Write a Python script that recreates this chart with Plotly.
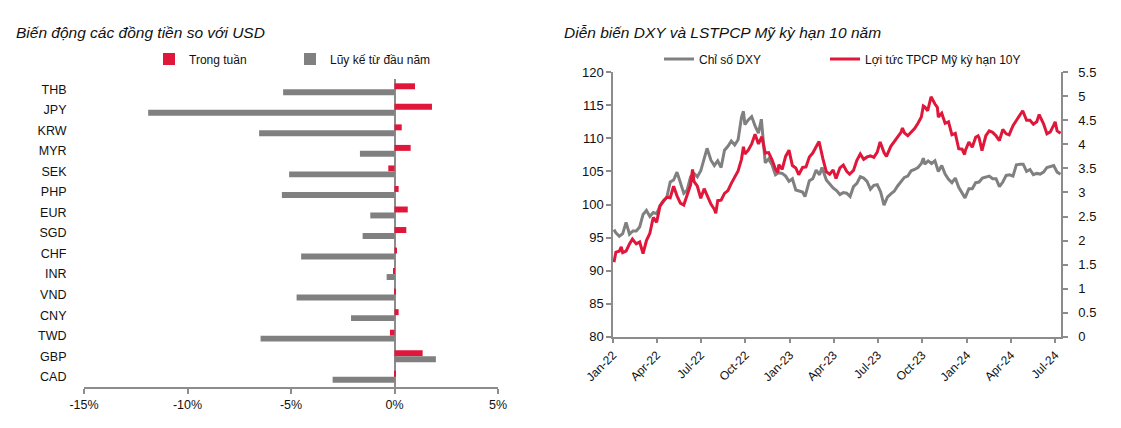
import plotly.graph_objects as go

# ---------------- Left chart data ----------------
currencies = ["THB", "JPY", "KRW", "MYR", "SEK", "PHP", "EUR", "SGD", "CHF", "INR",
              "VND", "CNY", "TWD", "GBP", "CAD"]
week_change = [0.99, 1.81, 0.35, 0.78, -0.30, 0.20, 0.64, 0.57, 0.12, -0.05,
               0.05, 0.20, -0.22, 1.36, 0.05]
ytd_change = [-5.38, -11.90, -6.54, -1.67, -5.09, -5.44, -1.17, -1.54, -4.51, -0.38,
              -4.73, -2.10, -6.47, 2.00, -2.99]
pct_ticks = [-15, -10, -5, 0, 5]
pct_labels = ["-15%", "-10%", "-5%", "0%", "5%"]

# ---------------- Right chart data ----------------
dxy_dates = [
    "2022-01-03", "2022-01-07", "2022-01-14", "2022-01-21", "2022-01-28", "2022-02-04", "2022-02-11",
    "2022-02-18", "2022-02-25", "2022-03-04", "2022-03-11", "2022-03-18", "2022-03-25", "2022-04-01",
    "2022-04-08", "2022-04-15", "2022-04-22", "2022-04-29", "2022-05-06", "2022-05-13", "2022-05-20",
    "2022-05-27", "2022-06-03", "2022-06-10", "2022-06-17", "2022-06-24", "2022-07-01", "2022-07-08",
    "2022-07-14", "2022-07-22", "2022-07-29", "2022-08-05", "2022-08-12", "2022-08-19", "2022-08-26",
    "2022-09-02", "2022-09-09", "2022-09-16", "2022-09-23", "2022-09-27", "2022-09-30", "2022-10-07",
    "2022-10-14", "2022-10-21", "2022-10-28", "2022-11-03", "2022-11-11", "2022-11-18", "2022-11-25",
    "2022-12-02", "2022-12-09", "2022-12-16", "2022-12-23", "2022-12-30",
    "2023-01-06", "2023-01-13", "2023-01-20", "2023-01-27", "2023-02-01", "2023-02-10", "2023-02-17",
    "2023-02-24", "2023-03-03", "2023-03-08", "2023-03-17", "2023-03-24", "2023-03-31", "2023-04-07",
    "2023-04-14", "2023-04-21", "2023-04-28", "2023-05-05", "2023-05-12", "2023-05-19", "2023-05-26",
    "2023-06-02", "2023-06-09", "2023-06-16", "2023-06-23", "2023-06-30", "2023-07-07", "2023-07-14",
    "2023-07-21", "2023-07-28", "2023-08-04", "2023-08-11", "2023-08-18", "2023-08-25", "2023-09-01",
    "2023-09-08", "2023-09-15", "2023-09-22", "2023-09-29", "2023-10-03", "2023-10-06", "2023-10-13",
    "2023-10-20", "2023-10-27", "2023-11-03", "2023-11-10", "2023-11-17", "2023-11-24", "2023-12-01",
    "2023-12-08", "2023-12-15", "2023-12-22", "2023-12-28",
    "2024-01-05", "2024-01-12", "2024-01-19", "2024-01-26", "2024-02-02", "2024-02-09", "2024-02-16",
    "2024-02-23", "2024-03-01", "2024-03-08", "2024-03-15", "2024-03-22", "2024-03-29", "2024-04-05",
    "2024-04-12", "2024-04-19", "2024-04-26", "2024-05-03", "2024-05-10", "2024-05-17", "2024-05-24",
    "2024-05-31", "2024-06-07", "2024-06-14", "2024-06-21", "2024-06-28", "2024-07-05", "2024-07-12"]
dxy_values = [
    96.2, 95.7, 95.2, 95.6, 97.3, 95.5, 96.0,
    96.0, 96.6, 98.5, 99.1, 98.2, 98.8, 98.6,
    99.8, 100.5, 101.1, 103.4, 103.7, 104.9, 103.2,
    101.7, 102.2, 104.2, 104.7, 104.2, 105.1, 107.0,
    108.5, 106.7, 105.9, 106.6, 105.6, 108.2, 108.8,
    109.6, 109.0, 109.8, 113.2, 114.1, 112.1, 112.8,
    113.3, 111.9, 110.8, 112.9, 106.3, 106.9, 106.0,
    104.5, 104.8, 104.7, 104.3, 103.5,
    103.9, 102.2, 102.0, 101.9, 101.2, 103.6, 103.9,
    105.2, 104.5, 105.6, 103.7, 103.1, 102.5, 102.1,
    101.5, 101.8, 101.7, 101.2, 102.7, 103.2, 104.2,
    104.0, 103.5, 102.3, 102.9, 103.0, 101.9, 99.9,
    101.1, 101.6, 102.0, 102.8, 103.4, 104.1, 104.3,
    105.1, 105.3, 105.6, 106.2, 107.0, 106.1, 106.6,
    106.2, 106.6, 105.0, 105.9, 104.6, 103.8, 103.3,
    104.0, 102.6, 101.8, 101.0,
    102.4, 102.4, 103.3, 103.4, 104.0, 104.1, 104.3,
    103.9, 103.9, 102.7, 103.4, 104.4, 104.5, 104.3,
    106.0, 106.1, 106.1, 105.0, 105.3, 104.5, 104.7,
    104.6, 104.9, 105.6, 105.8, 105.9, 104.9, 104.6]

ust_dates = [
    "2022-01-03", "2022-01-07", "2022-01-14", "2022-01-18", "2022-01-21", "2022-01-28", "2022-02-04",
    "2022-02-10", "2022-02-18", "2022-02-25", "2022-03-04", "2022-03-11", "2022-03-18", "2022-03-25",
    "2022-04-01", "2022-04-08", "2022-04-15", "2022-04-22", "2022-04-29", "2022-05-06", "2022-05-13",
    "2022-05-20", "2022-05-27", "2022-06-03", "2022-06-10", "2022-06-14", "2022-06-17", "2022-06-24",
    "2022-07-01", "2022-07-08", "2022-07-15", "2022-07-22", "2022-07-29", "2022-08-01", "2022-08-05",
    "2022-08-12", "2022-08-19", "2022-08-26", "2022-09-02", "2022-09-09", "2022-09-16", "2022-09-23",
    "2022-09-27", "2022-09-30", "2022-10-07", "2022-10-14", "2022-10-21", "2022-10-28", "2022-11-04",
    "2022-11-11", "2022-11-18", "2022-11-25", "2022-12-02", "2022-12-07", "2022-12-09", "2022-12-16",
    "2022-12-23", "2022-12-30",
    "2023-01-06", "2023-01-13", "2023-01-19", "2023-01-27", "2023-02-03", "2023-02-10", "2023-02-17",
    "2023-02-24", "2023-03-02", "2023-03-10", "2023-03-17", "2023-03-24", "2023-03-31", "2023-04-06",
    "2023-04-14", "2023-04-21", "2023-04-28", "2023-05-04", "2023-05-12", "2023-05-19", "2023-05-26",
    "2023-06-02", "2023-06-09", "2023-06-16", "2023-06-23", "2023-06-30", "2023-07-06", "2023-07-14",
    "2023-07-19", "2023-07-28", "2023-08-04", "2023-08-11", "2023-08-18", "2023-08-21", "2023-08-25",
    "2023-09-01", "2023-09-08", "2023-09-15", "2023-09-22", "2023-09-29", "2023-10-03", "2023-10-06",
    "2023-10-12", "2023-10-19", "2023-10-27", "2023-11-01", "2023-11-03", "2023-11-10", "2023-11-17",
    "2023-11-24", "2023-12-01", "2023-12-08", "2023-12-15", "2023-12-22", "2023-12-27", "2023-12-29",
    "2024-01-05", "2024-01-12", "2024-01-19", "2024-01-24", "2024-01-26", "2024-02-01", "2024-02-09",
    "2024-02-16", "2024-02-23", "2024-03-01", "2024-03-08", "2024-03-15", "2024-03-22", "2024-03-28",
    "2024-04-05", "2024-04-12", "2024-04-19", "2024-04-25", "2024-05-03", "2024-05-10", "2024-05-17",
    "2024-05-24", "2024-05-29", "2024-06-07", "2024-06-14", "2024-06-21", "2024-06-28", "2024-07-01",
    "2024-07-05", "2024-07-12"]
ust_values = [
    1.55, 1.76, 1.78, 1.87, 1.75, 1.78, 1.93,
    2.03, 1.93, 1.97, 1.73, 2.00, 2.15, 2.48,
    2.38, 2.72, 2.83, 2.90, 2.89, 3.13, 2.93,
    2.78, 2.74, 2.94, 3.16, 3.48, 3.23, 3.13,
    2.88, 3.08, 2.93, 2.76, 2.65, 2.57, 2.83,
    2.84, 2.98, 3.04, 3.19, 3.32, 3.45, 3.69,
    3.95, 3.80, 3.88, 4.01, 4.21, 4.01, 4.16,
    3.82, 3.83, 3.68, 3.49, 3.42, 3.58, 3.48,
    3.75, 3.88,
    3.56, 3.51, 3.37, 3.52, 3.53, 3.74, 3.82,
    3.95, 4.06, 3.70, 3.43, 3.38, 3.47, 3.29,
    3.51, 3.57, 3.44, 3.38, 3.46, 3.67, 3.80,
    3.69, 3.74, 3.76, 3.73, 3.84, 4.05, 3.83,
    3.75, 3.96, 4.05, 4.16, 4.25, 4.34, 4.24,
    4.18, 4.26, 4.33, 4.44, 4.57, 4.80, 4.78,
    4.70, 4.99, 4.84, 4.77, 4.57, 4.65, 4.44,
    4.47, 4.20, 4.23, 3.91, 3.90, 3.79, 3.88,
    4.05, 3.94, 4.15, 4.18, 4.14, 3.87, 4.18,
    4.28, 4.25, 4.18, 4.08, 4.31, 4.22, 4.20,
    4.39, 4.50, 4.62, 4.70, 4.50, 4.50, 4.42,
    4.47, 4.62, 4.43, 4.22, 4.26, 4.40, 4.47,
    4.28, 4.23]

date_ticks = ["2022-01-01", "2022-04-01", "2022-07-01", "2022-10-01", "2023-01-01", "2023-04-01",
              "2023-07-01", "2023-10-01", "2024-01-01", "2024-04-01", "2024-07-01"]
date_labels = ["Jan-22", "Apr-22", "Jul-22", "Oct-22", "Jan-23", "Apr-23",
               "Jul-23", "Oct-23", "Jan-24", "Apr-24", "Jul-24"]

RED = "#E0173A"
GRAY = "#808080"
AXIS = "#8C8C8C"
TXT = "#111111"
FONT = "Liberation Sans, Arial, sans-serif"

W, H = 1121, 428


def px_x(p):
    return p / W


def px_y(p):
    return 1 - p / H


fig = go.Figure()
fig.add_trace(go.Bar(y=currencies, x=week_change, orientation="h", name="Trong tuần",
                     marker=dict(color=RED, line=dict(width=0)), xaxis="x", yaxis="y",
                     legend="legend"))
fig.add_trace(go.Bar(y=currencies, x=ytd_change, orientation="h", name="Lũy kế từ đầu năm",
                     marker=dict(color=GRAY, line=dict(width=0)), xaxis="x", yaxis="y",
                     legend="legend2"))
fig.add_trace(go.Scatter(x=dxy_dates, y=dxy_values, mode="lines", name="Chỉ số DXY",
                         line=dict(color=GRAY, width=3), xaxis="x2", yaxis="y2",
                         legend="legend3"))
fig.add_trace(go.Scatter(x=ust_dates, y=ust_values, mode="lines", name="Lợi tức TPCP Mỹ kỳ hạn 10Y",
                         line=dict(color=RED, width=3), xaxis="x2", yaxis="y3",
                         legend="legend4"))


def legend_at(xpx):
    return dict(orientation="h", x=px_x(xpx), y=px_y(59), xanchor="left", yanchor="middle",
                bgcolor="rgba(0,0,0,0)", borderwidth=0,
                font=dict(family=FONT, size=12, color=TXT),
                itemclick=False, itemdoubleclick=False)


fig.update_layout(
    width=W, height=H, autosize=False,
    margin=dict(l=0, r=0, t=0, b=0, pad=0, autoexpand=False),
    paper_bgcolor="white", plot_bgcolor="white",
    font=dict(family=FONT, size=12, color=TXT),
    barmode="group", bargap=0.42, bargroupgap=0,
    showlegend=True,
    xaxis=dict(domain=[px_x(84), px_x(498)], range=[-15, 5], anchor="y", automargin=False,
               tickvals=pct_ticks, ticktext=pct_labels,
               showline=True, linecolor=AXIS, linewidth=1.5,
               ticks="outside", ticklen=5, tickcolor=AXIS, tickwidth=1.5,
               zeroline=True, zerolinecolor=AXIS, zerolinewidth=1.5,
               showgrid=False, tickfont=dict(family=FONT, size=12.5, color=TXT),
               fixedrange=True),
    yaxis=dict(domain=[px_y(387), px_y(79)], anchor="x", autorange="reversed", automargin=False,
               type="category", showline=False, showgrid=False, zeroline=False,
               ticks="outside", ticklen=14, tickcolor="rgba(0,0,0,0)",
               tickfont=dict(family=FONT, size=12.5, color=TXT), fixedrange=True),
    xaxis2=dict(domain=[px_x(613), px_x(1061)], anchor="y2", type="date", automargin=False,
                range=["2022-01-01", "2024-07-13"],
                tickvals=date_ticks, ticktext=date_labels, tickangle=-45,
                showline=True, linecolor=AXIS, linewidth=1.5,
                ticks="outside", ticklen=5, tickcolor=AXIS, tickwidth=1.5,
                showgrid=False, zeroline=False,
                tickfont=dict(family=FONT, size=12, color=TXT), fixedrange=True),
    yaxis2=dict(domain=[px_y(336.7), px_y(72.3)], anchor="x2", range=[80, 120], dtick=5,
                tick0=80, automargin=False,
                showline=True, linecolor=AXIS, linewidth=1.5,
                ticks="outside", ticklen=5, tickcolor=AXIS, tickwidth=1.5,
                showgrid=False, zeroline=False,
                tickfont=dict(family=FONT, size=13, color=TXT), fixedrange=True),
    yaxis3=dict(overlaying="y2", side="right", anchor="x2", range=[0, 5.5], dtick=0.5,
                tick0=0, automargin=False,
                showline=True, linecolor=AXIS, linewidth=1.5,
                ticks="outside", ticklen=5, tickcolor=AXIS, tickwidth=1.5,
                ticklabelstandoff=8,
                showgrid=False, zeroline=False,
                tickfont=dict(family=FONT, size=13, color=TXT), fixedrange=True),
    legend=legend_at(149),
    legend2=legend_at(290),
    legend3=legend_at(659),
    legend4=legend_at(825),
    annotations=[
        dict(text="<i>Biến động các đồng tiền so với USD</i>", xref="paper", yref="paper",
             x=px_x(14), y=px_y(32), xanchor="left", yanchor="middle", showarrow=False,
             font=dict(family=FONT, size=15.5, color=TXT)),
        dict(text="<i>Diễn biến DXY và LSTPCP Mỹ kỳ hạn 10 năm</i>", xref="paper", yref="paper",
             x=px_x(562), y=px_y(32), xanchor="left", yanchor="middle", showarrow=False,
             font=dict(family=FONT, size=15.5, color=TXT)),
    ],
)

fig.write_html("out.html")
